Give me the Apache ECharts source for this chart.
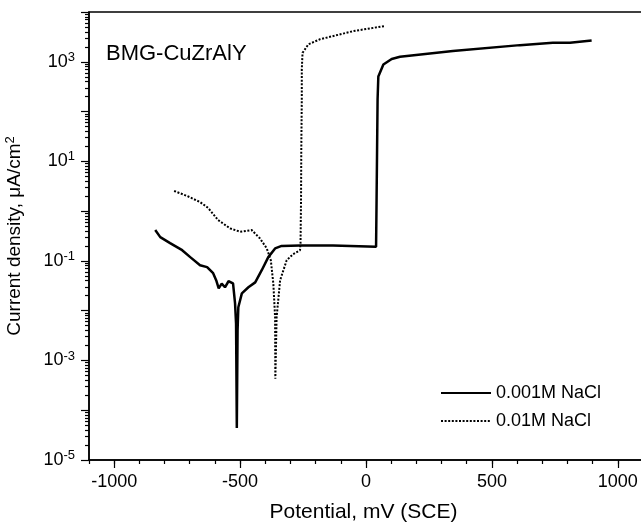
<!DOCTYPE html>
<html>
<head>
<meta charset="utf-8">
<script src="https://cdn.jsdelivr.net/npm/echarts@6/dist/echarts.min.js"></script>
<style>
  html, body { margin: 0; padding: 0; background: #fff; }
  #chart { width: 641px; height: 522px; }
</style>
</head>
<body>
<div id="chart"></div>
<script>
// 0.001M NaCl : potential (mV SCE) / current density (uA/cm2)
const potentialLow = [-837, -817, -778, -730, -698, -659, -631, -607, -595, -585, -573, -560, -546, -528, -520, -516, -513, -510, -507, -493, -467, -440, -414, -388, -361, -335, -262, -131, 40, 42, 44, 46, 49, 69, 102, 135, 345, 611, 742, 810, 896]
const currentLow = [0.416, 0.30, 0.228, 0.164, 0.119, 0.082, 0.075, 0.0565, 0.041, 0.028, 0.035, 0.0295, 0.039, 0.0355, 0.014, 0.0055, 4.4e-5, 0.004, 0.0117, 0.0223, 0.0295, 0.037, 0.065, 0.119, 0.178, 0.20, 0.203, 0.203, 0.193, 1.67, 17, 174, 506, 880, 1140, 1260, 1640, 2160, 2420, 2400, 2690]

// 0.01M NaCl
const potentialHigh = [-762, -710, -659, -627, -587, -540, -500, -454, -421, -394, -378, -368, -361, -360, -355, -341, -315, -290, -262, -260, -258, -257, -255, -255, -252, -229, -183, -50, 75]
const currentHigh = [2.54, 2.01, 1.52, 1.16, 0.66, 0.45, 0.385, 0.416, 0.283, 0.178, 0.103, 0.035, 0.0074, 4.3e-4, 0.0074, 0.041, 0.103, 0.136, 0.164, 0.228, 1.67, 17, 174, 700, 1510, 2240, 2830, 4140, 5230]

const seriesNames = ['0.001M NaCl', '0.01M NaCl']
const xMajorTicks = [-1000, -500, 0, 500, 1000]
const yMajorTicks = [1e-5, 1e-4, 1e-3, 1e-2, 1e-1, 1, 1e1, 1e2, 1e3, 1e4]
const yLabelTicks = [1e-5, 1e-3, 1e-1, 1e1, 1e3]

const yMinorTicks = []
yMajorTicks.slice(0, -1).forEach((d) => {
  for (let k = 2; k <= 9; k++) yMinorTicks.push(+(d * k).toPrecision(3))
})

const font = "'Liberation Sans', Arial, Helvetica, sans-serif"
const black = '#000'

const chart = echarts.init(document.getElementById('chart'))

const option = {
  animation: false,
  textStyle: { fontFamily: font, color: black },
  title: {
    text: 'BMG-CuZrAlY',
    left: 106,
    top: 43,
    padding: 0,
    textStyle: { fontFamily: font, fontSize: 22, fontWeight: 'normal', color: black },
  },
  legend: {
    orient: 'vertical',
    left: 440,
    top: 384,
    itemWidth: 50,
    itemHeight: 14,
    itemGap: 10,
    padding: 0,
    data: seriesNames,
    itemStyle: { opacity: 0 },
    textStyle: { fontFamily: font, fontSize: 18, color: black },
  },
  grid: {
    left: 89,
    right: -2,
    top: 12,
    bottom: 62,
    show: true,
    borderColor: black,
    borderWidth: 1.5,
    outerBoundsMode: 'none',
  },
  xAxis: [
    {
      type: 'value',
      min: -1100,
      max: 1100,
      interval: 100,
      position: 'bottom',
      name: 'Potential, mV (SCE)',
      nameLocation: 'middle',
      nameGap: 42,
      nameTextStyle: { fontFamily: font, fontSize: 21, color: black, padding: [0, 5, 0, 0] },
      axisLine: { onZero: false, lineStyle: { color: black, width: 1.5 } },
      axisTick: { length: 4, lineStyle: { color: black, width: 1.2 } },
      axisLabel: {
        fontFamily: font,
        fontSize: 18,
        color: black,
        margin: 13,
        formatter: (v) => (v % 500 === 0 ? String(v) : ''),
      },
      splitLine: { show: false },
    },
    {
      type: 'value',
      min: -1100,
      max: 1100,
      position: 'bottom',
      axisLine: { show: false, onZero: false },
      axisTick: { show: true, length: 8, customValues: xMajorTicks, lineStyle: { color: black, width: 1.2 } },
      axisLabel: { show: false },
      splitLine: { show: false },
    },
  ],
  yAxis: [
    {
      type: 'log',
      logBase: 10,
      min: 1e-5,
      max: 1e4,
      position: 'left',
      name: 'Current density, μA/cm{s|2}',
      nameLocation: 'middle',
      nameGap: 63,
      nameTextStyle: {
        fontFamily: font,
        fontSize: 19,
        color: black,
        rich: { s: { fontFamily: font, fontSize: 13, color: black, padding: [0, 0, 9, 0] } },
      },
      axisLine: { onZero: false, lineStyle: { color: black, width: 1.5 } },
      axisTick: { show: true, length: 8, customValues: yMajorTicks, lineStyle: { color: black, width: 1.2 } },
      axisLabel: {
        customValues: yLabelTicks,
        fontFamily: font,
        fontSize: 18,
        color: black,
        margin: 14,
        formatter: (v) => '10{s|' + Math.round(Math.log10(v)) + '}',
        rich: { s: { fontFamily: font, fontSize: 13, color: black, padding: [0, 0, 9, 0] } },
      },
      splitLine: { show: false },
    },
    {
      type: 'log',
      logBase: 10,
      min: 1e-5,
      max: 1e4,
      position: 'left',
      axisLine: { show: false, onZero: false },
      axisTick: { show: true, length: 4, customValues: yMinorTicks, lineStyle: { color: black, width: 1.2 } },
      axisLabel: { show: false },
      splitLine: { show: false },
    },
  ],
  series: [
    {
      name: seriesNames[0],
      type: 'line',
      symbol: 'none',
      data: potentialLow.map((x, i) => [x, currentLow[i]]),
      lineStyle: { color: black, width: 2.5 },
      itemStyle: { color: black },
    },
    {
      name: seriesNames[1],
      type: 'line',
      symbol: 'none',
      data: potentialHigh.map((x, i) => [x, currentHigh[i]]),
      lineStyle: { color: black, width: 2, type: [2, 1.6] },
      itemStyle: { color: black },
    },
  ],
}

chart.setOption(option)
</script>
</body>
</html>
